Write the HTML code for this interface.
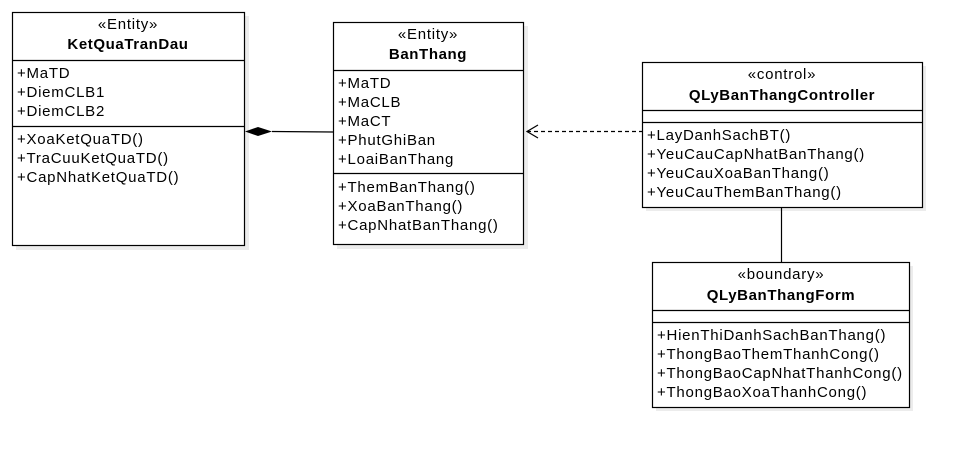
<!DOCTYPE html>
<html><head><meta charset="utf-8"><style>
body{margin:0;background:#fff;width:973px;height:457px;overflow:hidden}
svg text{font-family:"Liberation Sans",Arial,sans-serif;font-size:15px;letter-spacing:0.75px;fill:#000}
.b{font-weight:bold;letter-spacing:0.6px}
</style></head><body>
<svg width="973" height="457" xmlns="http://www.w3.org/2000/svg">
<g fill="#ececec">
<rect x="16" y="16" width="233" height="234"/>
<rect x="337" y="26" width="191" height="223"/>
<rect x="646" y="66" width="280" height="145"/>
<rect x="656" y="266" width="257" height="145"/>
</g>
<g fill="#fff" stroke="#000" stroke-width="1.2">
<rect x="12.5" y="12.5" width="232" height="233"/>
<rect x="333.5" y="22.5" width="190" height="222"/>
<rect x="642.5" y="62.5" width="280" height="145"/>
<rect x="652.5" y="262.5" width="257" height="145"/>
</g>
<g stroke="#000" stroke-width="1.2">
<line x1="12" y1="60.5" x2="245" y2="60.5"/>
<line x1="12" y1="126.5" x2="245" y2="126.5"/>
<line x1="333" y1="70.5" x2="524" y2="70.5"/>
<line x1="333" y1="173.5" x2="524" y2="173.5"/>
<line x1="642" y1="110.5" x2="923" y2="110.5"/>
<line x1="642" y1="122.5" x2="923" y2="122.5"/>
<line x1="652" y1="310.5" x2="910" y2="310.5"/>
<line x1="652" y1="322.5" x2="910" y2="322.5"/>
<line x1="272" y1="131.5" x2="333" y2="132"/>
<line x1="781.5" y1="208" x2="781.5" y2="262"/>
<line x1="527" y1="131.5" x2="642" y2="131.5" stroke-dasharray="4,3"/>
<polyline points="538,125 527,131.5 538,138" fill="none"/>
</g>
<polygon points="245,131.5 258,127 272,131.5 258,136" fill="#000"/>
<g text-anchor="middle">
<text x="128" y="29">«Entity»</text><text x="128" y="49" class="b">KetQuaTranDau</text>
<text x="428" y="39">«Entity»</text><text x="428" y="59" class="b">BanThang</text>
<text x="782" y="79">«control»</text><text x="782" y="100" class="b">QLyBanThangController</text>
<text x="781" y="279">«boundary»</text><text x="781" y="300" class="b">QLyBanThangForm</text>
</g>
<text x="17" y="78">+MaTD</text><text x="17" y="97">+DiemCLB1</text><text x="17" y="116">+DiemCLB2</text>
<text x="17" y="144">+XoaKetQuaTD()</text><text x="17" y="163">+TraCuuKetQuaTD()</text><text x="17" y="182">+CapNhatKetQuaTD()</text>
<text x="338" y="88">+MaTD</text><text x="338" y="107">+MaCLB</text><text x="338" y="126">+MaCT</text><text x="338" y="145">+PhutGhiBan</text><text x="338" y="164">+LoaiBanThang</text>
<text x="338" y="192">+ThemBanThang()</text><text x="338" y="211">+XoaBanThang()</text><text x="338" y="230">+CapNhatBanThang()</text>
<text x="647" y="140">+LayDanhSachBT()</text><text x="647" y="159">+YeuCauCapNhatBanThang()</text><text x="647" y="178">+YeuCauXoaBanThang()</text><text x="647" y="197">+YeuCauThemBanThang()</text>
<text x="657" y="340">+HienThiDanhSachBanThang()</text><text x="657" y="359">+ThongBaoThemThanhCong()</text><text x="657" y="378">+ThongBaoCapNhatThanhCong()</text><text x="657" y="397">+ThongBaoXoaThanhCong()</text>
</svg>
</body></html>
